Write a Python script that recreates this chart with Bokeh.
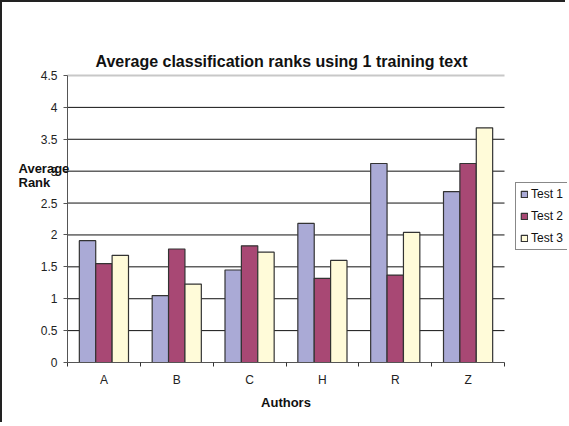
from bokeh.plotting import figure
from bokeh.models import (ColumnDataSource, FixedTicker, Label, Legend, LegendItem, Range1d)
from bokeh.transform import dodge
from bokeh.embed import file_html
from bokeh.resources import INLINE

# ---- data ----
authors = ["A", "B", "C", "H", "R", "Z"]
test1 = [1.91, 1.05, 1.45, 2.18, 3.12, 2.68]
test2 = [1.55, 1.78, 1.83, 1.32, 1.37, 3.12]
test3 = [1.68, 1.23, 1.73, 1.60, 2.04, 3.68]
series_names = ["Test 1", "Test 2", "Test 3"]
y_ticks = [0, 0.5, 1, 1.5, 2, 2.5, 3, 3.5, 4, 4.5]
y_tick_labels = ["0", "0.5", "1", "1.5", "2", "2.5", "3", "3.5", "4", "4.5"]
title_text = "Average classification ranks using 1 training text"
x_title = "Authors"
y_title_lines = ["Average", "Rank"]

colors = ["#AAAAD6", "#A84874", "#FFFBD9"]
FONT = "Liberation Sans"

# ---- layout (pixels inside the canvas) ----
W, H = 565, 422
PL, PR, PT, PB = 65, 502, 73, 360          # plot-area edges
ymax = y_ticks[-1]
ncat = len(authors)
xs = (PR - PL) / ncat
ys = (PB - PT) / ymax
x_range = Range1d(-PL / xs, (W - PL) / xs)
y_range = Range1d(-(H - PB) / ys, PB / ys)

centers = [i + 0.5 for i in range(ncat)]
src = ColumnDataSource(dict(xc=centers, t1=test1, t2=test2, t3=test3))

p = figure(width=W, height=H, output_backend="svg", toolbar_location=None,
           x_range=x_range, y_range=y_range,
           min_border_left=0, min_border_right=0, min_border_top=0, min_border_bottom=0)
p.styles = {"border-left": "2px solid #222222", "border-top": "2px solid #222222"}
p.outline_line_color = None
p.background_fill_color = "white"
p.border_fill_color = "white"
p.xgrid.visible = False
p.ygrid.visible = False

# gridlines limited to the plot area (one per tick value), grey top edge
grid_vals = y_ticks[1:-1]
p.segment(x0=0, x1=ncat, y0=grid_vals, y1=grid_vals, line_color="#111111",
          line_width=1, level="underlay")
p.segment(x0=0, x1=ncat, y0=[ymax], y1=[ymax], line_color="#C8C8C8",
          line_width=2, level="underlay")

bw = 0.225
r1 = p.vbar(x=dodge("xc", -bw, range=p.x_range), top="t1", width=bw, source=src,
            fill_color=colors[0], line_color="#333333", line_width=1.2)
r2 = p.vbar(x=dodge("xc", 0, range=p.x_range), top="t2", width=bw, source=src,
            fill_color=colors[1], line_color="#333333", line_width=1.2)
r3 = p.vbar(x=dodge("xc", bw, range=p.x_range), top="t3", width=bw, source=src,
            fill_color=colors[2], line_color="#333333", line_width=1.2)

# y axis (placed at x = 0 inside the full-canvas frame)
yax = p.yaxis[0]
yax.fixed_location = 0
yax.bounds = (0, ymax)
yax.ticker = FixedTicker(ticks=y_ticks)
yax.major_label_overrides = {t: l for t, l in zip(y_ticks, y_tick_labels)}
yax.major_tick_out = 4
yax.major_tick_in = 0
yax.minor_tick_line_color = None
yax.axis_line_color = "#555555"
yax.major_tick_line_color = "#555555"
yax.major_label_text_font = FONT
yax.major_label_text_font_size = "12px"
yax.major_label_text_color = "#222222"
yax.major_label_standoff = 6

# x axis: labels at category centres, tick marks at category boundaries
xax = p.xaxis[0]
xax.fixed_location = 0
xax.bounds = (0, ncat)
xax.ticker = FixedTicker(ticks=centers, minor_ticks=list(range(ncat + 1)))
xax.major_label_overrides = {c: a for c, a in zip(centers, authors)}
xax.major_tick_line_color = None
xax.major_tick_out = 0
xax.major_tick_in = 0
xax.minor_tick_out = 4
xax.minor_tick_in = 0
xax.minor_tick_line_color = "#333333"
xax.axis_line_color = "#555555"
xax.major_label_text_font = FONT
xax.major_label_text_font_size = "12px"
xax.major_label_text_color = "#222222"
xax.major_label_standoff = 6
xax.axis_label = x_title
xax.axis_label_text_font = FONT
xax.axis_label_text_font_style = "bold"
xax.axis_label_text_font_size = "13px"
xax.axis_label_text_color = "#111111"
xax.axis_label_standoff = 5

# title and y title
p.add_layout(Label(x=279, y=H - 59, x_units="screen", y_units="screen", text=title_text,
                   text_font=FONT, text_font_style="bold", text_font_size="16px",
                   text_align="center", text_baseline="middle", text_color="#111111"))
p.add_layout(Label(x=16, y=H - 166, x_units="screen", y_units="screen", text=y_title_lines[0],
                   text_font=FONT, text_font_style="bold", text_font_size="13px",
                   text_align="left", text_baseline="middle", text_color="#111111"))
p.add_layout(Label(x=16, y=H - 180, x_units="screen", y_units="screen", text=y_title_lines[1],
                   text_font=FONT, text_font_style="bold", text_font_size="13px",
                   text_align="left", text_baseline="middle", text_color="#111111"))

legend = Legend(items=[LegendItem(label=series_names[0], renderers=[r1]),
                       LegendItem(label=series_names[1], renderers=[r2]),
                       LegendItem(label=series_names[2], renderers=[r3])],
                location=(513, H - 248), orientation="vertical",
                glyph_width=8, glyph_height=8, label_height=14, spacing=8,
                padding=4, margin=0, label_standoff=3,
                label_text_font=FONT, label_text_font_size="12px",
                label_text_color="#111111", label_text_baseline="middle",
                border_line_color="#111111", border_line_width=1,
                background_fill_color="white", background_fill_alpha=1)
p.add_layout(legend, "center")

open("out.html", "w").write(file_html(p, INLINE))
